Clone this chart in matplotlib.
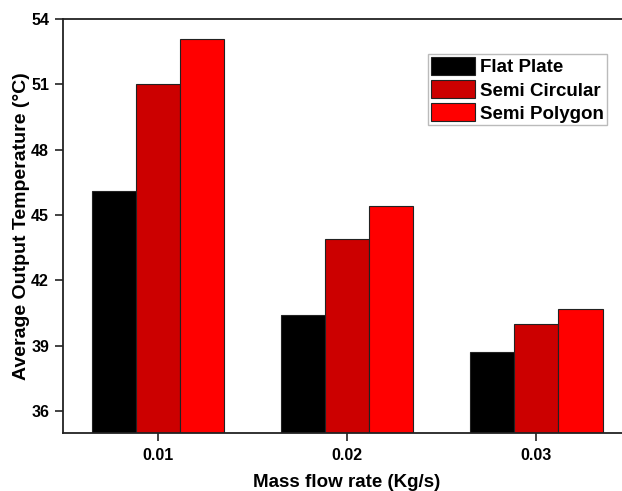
import matplotlib
matplotlib.use("Agg")

import numpy as np
import matplotlib.pyplot as plt

# ── Data ────────────────────────────────────────────────────────────
flow_rates = [0.01, 0.02, 0.03]
flat_plate = [46.1, 40.4, 38.7]
semi_circular = [51.0, 43.9, 40.0]
semi_polygon = [53.1, 45.4, 40.7]

series = [
    ("Flat Plate", flat_plate, "#000000"),
    ("Semi Circular", semi_circular, "#cc0000"),
    ("Semi Polygon", semi_polygon, "#ff0000"),
]
yticks = [36, 39, 42, 45, 48, 51, 54]

plt.rcParams["font.family"] = ["Liberation Sans", "DejaVu Sans"]
plt.rcParams["font.weight"] = "bold"

# ── Figure ──────────────────────────────────────────────────────────
fig = plt.figure(figsize=(6.22, 4.91), dpi=100)
# right edge sits just past the canvas, so the right spine is clipped
ax = fig.add_axes([0.1013, 0.1181, 0.9132, 0.8432])

bar_w = 0.00233
x = np.array(flow_rates)
for i, (label, vals, color) in enumerate(series):
    ax.bar(x + (i - 1) * bar_w, vals, width=bar_w, color=color,
           edgecolor="#222222", linewidth=0.8, label=label, zorder=2)

ax.set_xlim(0.005, 0.035)
ax.set_ylim(35, 54)
ax.set_xticks(flow_rates)
ax.set_xticklabels([f"{v:.2f}" for v in flow_rates])
ax.set_yticks(yticks)

ax.tick_params(axis="both", direction="out", length=6, width=1.2,
               labelsize=11.5, color="#222222")
ax.tick_params(axis="y", pad=4)
ax.tick_params(axis="x", pad=5)
for spine in ax.spines.values():
    spine.set_linewidth(1.3)
    spine.set_color("#222222")

ax.set_xlabel("Mass flow rate (Kg/s)", fontsize=13.5, fontweight="bold",
              labelpad=7.5)
ax.set_ylabel("Average Output Temperature (\u00b0C)", fontsize=14,
              fontweight="bold", labelpad=1)

leg = ax.legend(loc="upper right", bbox_to_anchor=(0.958, 0.915),
                fontsize=13.5, frameon=True, fancybox=False,
                handlelength=2.35, handleheight=1.1, handletextpad=0.3,
                labelspacing=0.2, borderpad=0.15, borderaxespad=0)
leg.get_frame().set_edgecolor("#aaaaaa")
leg.get_frame().set_linewidth(1.0)
for t in leg.get_texts():
    t.set_fontweight("bold")

fig.savefig("out.png", dpi=100)
